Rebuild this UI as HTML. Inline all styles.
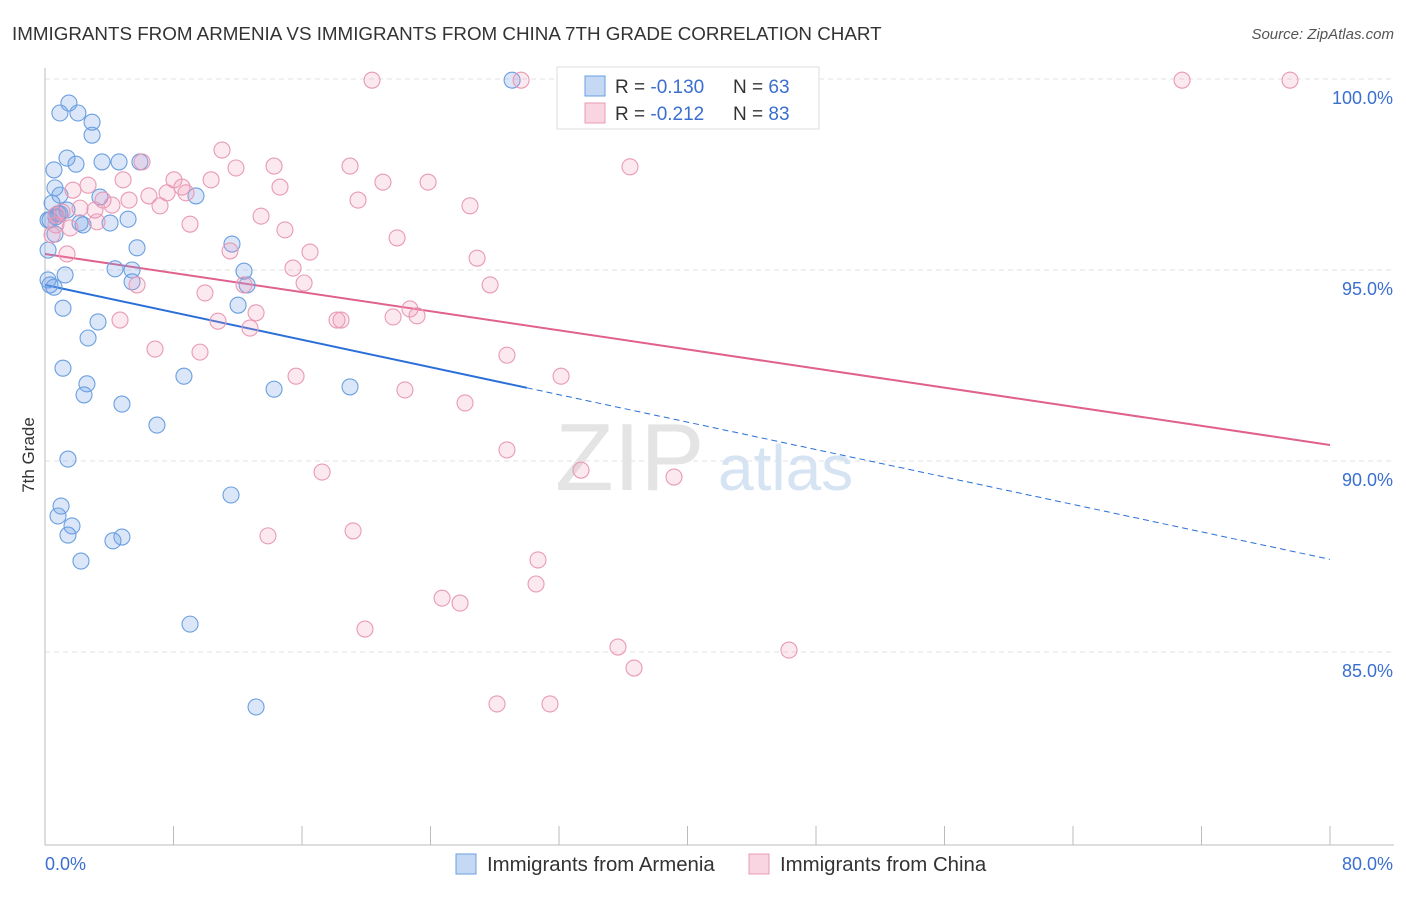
<!DOCTYPE html>
<html><head><meta charset="utf-8"><style>
body{margin:0;background:#fff;font-family:"Liberation Sans",sans-serif;}
svg text{font-family:"Liberation Sans",sans-serif;}
</style></head><body>
<svg id="chart" width="1406" height="892">
<text x="12" y="40" font-size="18.8" fill="#333">IMMIGRANTS FROM ARMENIA VS IMMIGRANTS FROM CHINA 7TH GRADE CORRELATION CHART</text>
<text x="1394" y="39" font-size="15" fill="#555" text-anchor="end" font-style="italic">Source: ZipAtlas.com</text>
<text x="34" y="455" font-size="17" fill="#333" text-anchor="middle" transform="rotate(-90 34 455)">7th Grade</text>
<g id="grid"></g>
<text x="555" y="490" font-size="96" fill="#e4e4e4" font-family="Liberation Serif">ZIP</text>
<text x="718" y="490" font-size="64" fill="#d6e3f3">atlas</text>
<g id="axes"></g>
<g id="trends"></g>
<g id="pts"></g>
<g>
<rect x="557" y="67" width="262" height="62" fill="#fff" stroke="#ddd"/>
<rect x="585" y="76" width="20" height="20" fill="rgba(110,160,230,0.4)" stroke="#6a9fe0"/>
<text x="615" y="93" font-size="19" fill="#333">R = <tspan fill="#3a6fd0">-0.130</tspan></text>
<text x="733" y="93" font-size="19" fill="#333">N = <tspan fill="#3a6fd0">63</tspan></text>
<rect x="585" y="103" width="20" height="20" fill="rgba(240,150,180,0.4)" stroke="#e89ab5"/>
<text x="615" y="120" font-size="19" fill="#333">R = <tspan fill="#3a6fd0">-0.212</tspan></text>
<text x="733" y="120" font-size="19" fill="#333">N = <tspan fill="#3a6fd0">83</tspan></text>
</g>
<g>
<rect x="456" y="854" width="20" height="20" fill="rgba(110,160,230,0.4)" stroke="#6a9fe0"/>
<text x="487" y="871" font-size="20.4" fill="#333">Immigrants from Armenia</text>
<rect x="749" y="854" width="20" height="20" fill="rgba(240,150,180,0.4)" stroke="#e89ab5"/>
<text x="780" y="871" font-size="20.4" fill="#333">Immigrants from China</text>
</g>
</svg>
<script>
const xTicks=[0,8,16,24,32,40,48,56,64,72,80];
const yTicks=[85,90,95,100];
const yTickLabels=["85.0%","90.0%","95.0%","100.0%"];
const xEndLabels=["0.0%","80.0%"];
const armeniaX=[1.49,0.93,2.05,2.93,2.93,1.37,0.56,1.93,3.55,4.61,0.62,0.93,0.44,3.42,9.40,1.37,0.93,0.68,0.31,2.18,2.37,4.05,5.17,0.62,0.19,5.73,11.64,1.25,0.19,0.56,4.36,5.42,5.42,12.39,12.58,1.12,12.02,3.30,2.68,1.12,8.65,2.61,2.43,14.26,18.99,4.79,6.97,1.43,11.58,1.00,0.81,1.68,1.43,4.79,4.23,2.24,9.03,13.14,29.08,0.31,0.19,0.81,5.91];
const armeniaY=[99.37,99.11,99.11,98.87,98.53,97.93,97.62,97.77,97.83,97.83,97.15,96.96,96.75,96.91,96.94,96.57,96.47,96.39,96.31,96.23,96.18,96.23,96.33,95.94,95.52,95.58,95.68,94.87,94.74,94.55,95.03,95.00,94.69,94.97,94.61,94.00,94.08,93.64,93.22,92.43,92.22,92.02,91.73,91.88,91.94,91.49,90.94,90.05,89.11,88.82,88.56,88.30,88.06,88.01,87.91,87.38,85.73,83.56,99.97,94.61,96.31,96.47,97.83];
const chinaX=[20.36,29.64,32.94,70.79,77.51,11.02,6.04,11.89,14.26,18.99,36.42,4.86,8.03,8.53,10.34,14.63,21.04,23.85,1.74,2.68,6.47,7.60,8.78,3.61,5.23,7.16,19.49,26.46,2.18,3.11,4.17,1.06,0.68,1.56,3.24,9.03,13.45,14.94,21.92,11.52,16.50,1.37,26.90,15.44,16.13,5.73,12.39,27.71,9.96,13.14,22.72,23.16,10.77,18.18,18.43,21.67,4.67,12.76,6.85,9.65,28.76,15.63,32.13,22.41,26.15,28.76,17.25,33.37,39.16,13.88,19.18,30.69,30.57,24.72,25.84,19.92,35.67,46.32,36.67,28.14,31.44,0.44,0.68];
const chinaY=[99.97,99.97,99.97,99.97,99.97,98.14,97.83,97.67,97.72,97.72,97.70,97.36,97.36,97.17,97.36,97.17,97.30,97.30,97.09,97.22,96.94,97.02,97.02,96.83,96.83,96.68,96.83,96.68,96.62,96.57,96.70,96.52,96.18,96.10,96.26,96.20,96.41,96.05,95.84,95.50,95.47,95.42,95.31,95.05,94.66,94.61,94.61,94.61,94.40,93.88,93.98,93.80,93.66,93.69,93.69,93.77,93.69,93.48,92.93,92.85,92.77,92.22,92.22,91.86,91.52,90.29,89.71,89.76,89.58,88.04,88.17,87.41,86.78,86.41,86.28,85.60,85.13,85.05,84.58,83.64,83.64,95.92,96.44];
const armeniaTrend=[94.61,-0.0898,30.0];
const chinaTrend=[95.42,-0.0625];
const NS="http://www.w3.org/2000/svg";
const X=v=>45+v/80*1285;
const Y=v=>79+(100-v)/5*191;
function mk(tag,attrs,parent){const e=document.createElementNS(NS,tag);for(const k in attrs)e.setAttribute(k,attrs[k]);parent.appendChild(e);return e;}
const grid=document.getElementById('grid'),axes=document.getElementById('axes'),tr=document.getElementById('trends'),pts=document.getElementById('pts');
yTicks.forEach((t,i)=>{
 const l=mk('line',{x1:45,x2:1394,y1:Y(t),y2:Y(t),stroke:'#e2e2e2','stroke-dasharray':'5,4'},grid);
 
 
 const tx=mk('text',{x:1393,y:Y(t)+25,'font-size':18,fill:'#3a6fd0','text-anchor':'end'},axes);
 tx.textContent=yTickLabels[i];
 
 
});
const xa=mk('line',{x1:45,x2:1394,y1:845,y2:845,stroke:'#bbb'},axes);


const ya=mk('line',{x1:45,x2:45,y1:68,y2:845,stroke:'#bbb'},axes);


xTicks.forEach(t=>{
 const l=mk('line',{x1:X(t),x2:X(t),y1:826,y2:845,stroke:'#bbb'},axes);
 
 
});
[[0,'start'],[80,'end']].forEach((p,i)=>{
 const tx=mk('text',{x:i?1393:45,y:870,'font-size':18,fill:'#3a6fd0','text-anchor':p[1]},axes);
 tx.textContent=xEndLabels[i];
 
 
});
function drawPts(xs,ys,fill,stroke,name){
 xs.forEach((x,i)=>{
  const c=mk('circle',{cx:X(x),cy:Y(ys[i]),r:8,fill:fill,stroke:stroke,'stroke-width':1.1},pts);
  
  
 });
}
drawPts(armeniaX,armeniaY,'rgba(110,160,230,0.25)','#6a9fe0','point-armenia');
drawPts(chinaX,chinaY,'rgba(240,150,180,0.22)','#e89ab5','point-china');
const [ai,as,ae]=armeniaTrend;
const b1=mk('line',{x1:X(0),y1:Y(ai),x2:X(ae),y2:Y(ai+as*ae),stroke:'#2a6fd8','stroke-width':2},tr);


const b2=mk('line',{x1:X(ae),y1:Y(ai+as*ae),x2:X(80),y2:Y(ai+as*80),stroke:'#2a6fd8','stroke-width':1,'stroke-dasharray':'6,4'},tr);


const [ci,cs]=chinaTrend;
const p1=mk('line',{x1:X(0),y1:Y(ci),x2:X(80),y2:Y(ci+cs*80),stroke:'#e0608e','stroke-width':2},tr);


</script>
</body></html>
